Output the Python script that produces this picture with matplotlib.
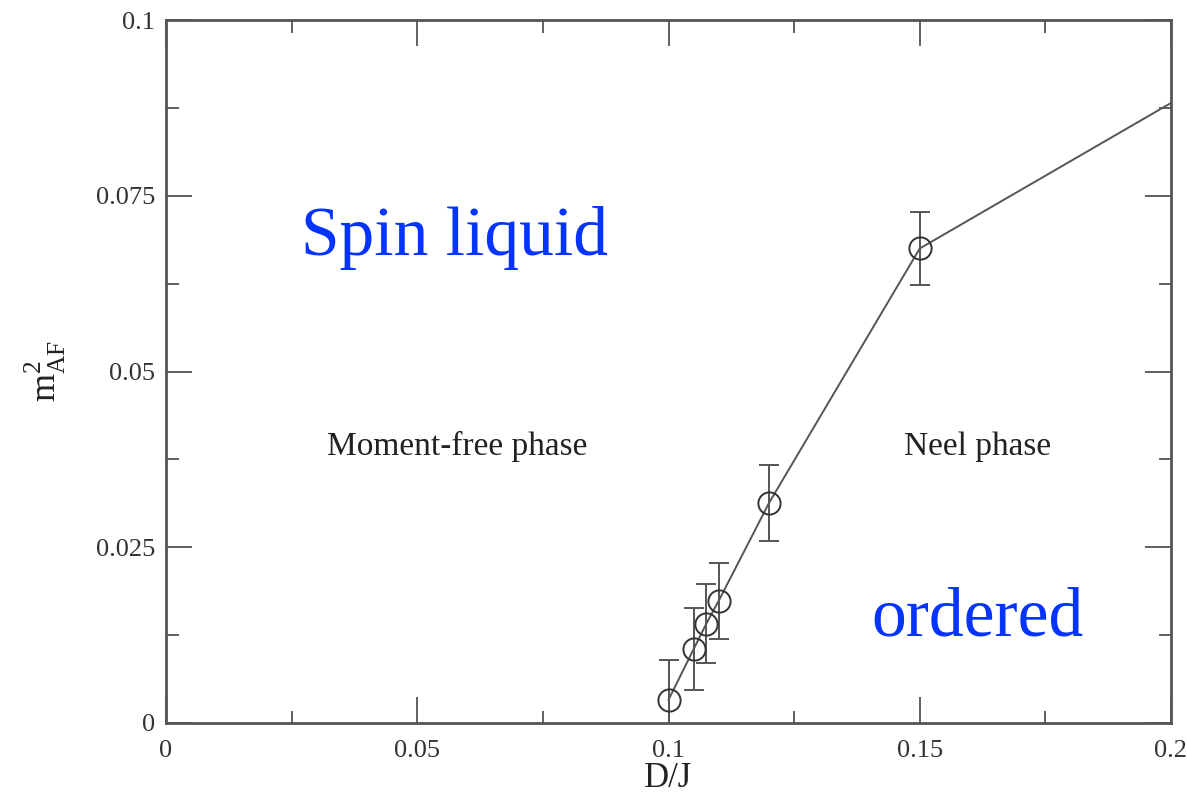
import numpy as np
import matplotlib
matplotlib.use("Agg")
import matplotlib.pyplot as plt
from matplotlib.ticker import MultipleLocator

# data
dj = [0.1, 0.105, 0.1075, 0.11, 0.12, 0.15]
m2 = [0.0033, 0.0105, 0.0141, 0.0174, 0.0313, 0.0675]
err = [0.0057, 0.0058, 0.0056, 0.0054, 0.0054, 0.0052]
# line continues off to the right edge
dj_line = dj + [0.2]
m2_line = m2 + [0.0882]

plt.rcParams['font.family'] = ['Liberation Serif', 'DejaVu Serif']
plt.rcParams['mathtext.fontset'] = 'custom'
plt.rcParams['mathtext.rm'] = 'Liberation Serif'

fig = plt.figure(figsize=(11.87, 7.95), dpi=100)
ax = fig.add_axes([0.1399, 0.0906, 0.8466, 0.8842])

grey = '#555555'
ax.plot(dj_line, m2_line, color=grey, lw=1.4, clip_on=True)
ax.errorbar(dj, m2, yerr=err, fmt='o', ms=16, mfc='none', mec='#333333', mew=1.4,
            ecolor=grey, elinewidth=1.4, capsize=7, capthick=1.4)

ax.set_xlim(0, 0.2)
ax.set_ylim(0, 0.1)
ax.xaxis.set_minor_locator(MultipleLocator(0.025))
ax.yaxis.set_minor_locator(MultipleLocator(0.0125))
ax.set_xticks([0, 0.05, 0.1, 0.15, 0.2])
ax.set_xticklabels(['0', '0.05', '0.1', '0.15', '0.2'])
ax.set_yticks([0, 0.025, 0.05, 0.075, 0.1])
ax.set_yticklabels(['0', '0.025', '0.05', '0.075', '0.1'])

ax.tick_params(which='both', direction='in', top=True, right=True, color='#555555',
               labelsize=19, labelcolor='#333333')
ax.tick_params(which='major', length=19, width=1.3)
ax.tick_params(which='minor', length=9, width=1.3)
ax.tick_params(axis='x', which='major', pad=12)
ax.tick_params(axis='y', which='major', pad=8)
for s in ax.spines.values():
    s.set_color('#555555')
    s.set_linewidth(2)

ax.set_xlabel('D/J', fontsize=25, color='#222222', labelpad=0)
ax.set_ylabel(r'$\mathrm{m}^{2}_{\mathrm{AF}}$', fontsize=26, color='#222222', labelpad=20)

ax.text(0.0575, 0.069, 'Spin liquid', fontsize=50, color='#0533ff', ha='center', va='center')
ax.text(0.1615, 0.0148, 'ordered', fontsize=50, color='#0533ff', ha='center', va='center')
ax.text(0.058, 0.0393, 'Moment-free phase', fontsize=24, color='#222222', ha='center', va='center')
ax.text(0.1615, 0.0393, 'Neel phase', fontsize=24, color='#222222', ha='center', va='center')

fig.savefig('out.png', dpi=100)
